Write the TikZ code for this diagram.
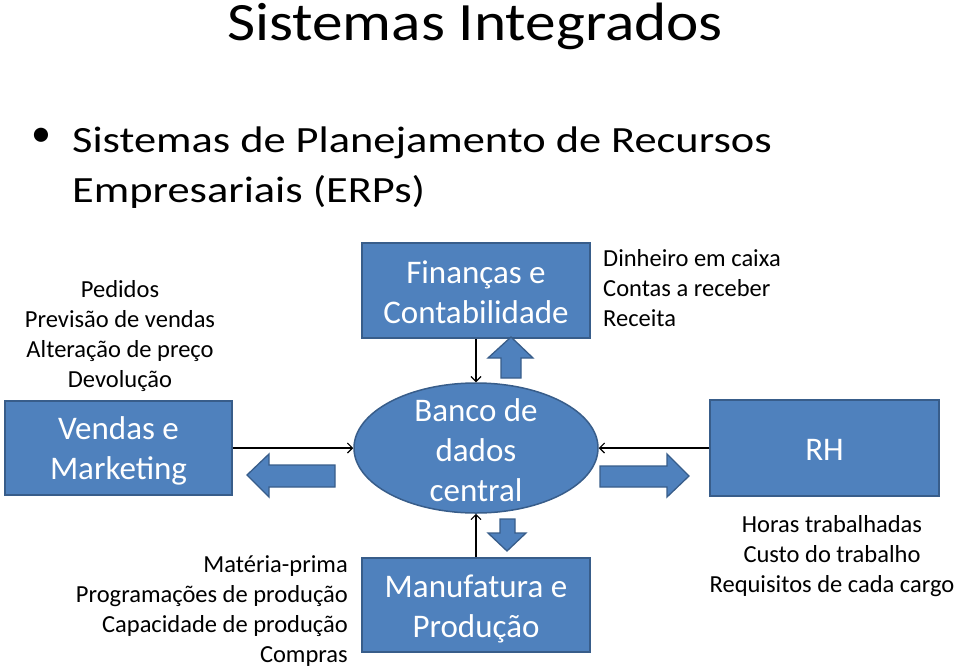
\documentclass[tikz,border=0pt]{standalone}
\usepackage{fontspec}
\usepackage{graphicx}
\setmainfont{Carlito}
\usetikzlibrary{arrows.meta,shapes.geometric}
\definecolor{boxfill}{HTML}{4F81BD}
\definecolor{boxline}{HTML}{385D8A}
\tikzset{
  unitbox/.style={draw=boxline,fill=boxfill,line width=1.5pt,inner sep=0pt},
  boxtext/.style={text=white,align=center,font=\fontsize{33}{40}\selectfont,inner sep=0pt},
  conn/.style={line width=1.1pt,-{Straight Barb[length=5pt,width=10pt,line width=1.1pt]}},
  blockarrow/.style={draw=boxline,fill=boxfill,line width=1.3pt,line join=miter},
  small/.style={font=\fontsize{24.5}{30}\selectfont,inner sep=0pt},
  bigtext/.style={font=\fontsize{37}{50}\selectfont,inner sep=0pt,anchor=base west},
}
\begin{document}
\begin{tikzpicture}[x=1pt,y=-1pt]
\useasboundingbox (0,0) rectangle (959,667);
% title
\node[font=\fontsize{54}{64}\selectfont,inner sep=0pt,anchor=base] (title) at (475,40) {\scalebox{1.134}[1]{Sistemas Integrados}};
% bullet
\node[font=\fontsize{40}{50}\selectfont,inner sep=0pt] (bul) at (41,137) {•};
\node[bigtext] (b1) at (72,152) {\scalebox{1.2}[1]{Sistemas de Planejamento de Recursos}};
\node[bigtext] (b2) at (72,202) {\scalebox{1.2}[1]{Empresariais (ERPs)}};
% boxes
\node[unitbox,minimum width=227pt,minimum height=94pt] (vm) at (118.5,448) {};
\node[unitbox,minimum width=228pt,minimum height=95pt] (fin) at (476,290.5) {};
\node[unitbox,minimum width=228pt,minimum height=94pt] (man) at (476,605) {};
\node[unitbox,minimum width=229pt,minimum height=96pt] (rh) at (824.5,448) {};
\node[unitbox,ellipse,minimum width=244pt,minimum height=130pt] (db) at (476,448) {};
\node[boxtext] (vmt) at (118.5,451) {Vendas e\\Marketing};
\node[boxtext] (fint) at (476,292.5) {Finanças e\\Contabilidade};
\node[boxtext] (mant) at (476,609) {Manufatura e\\Produção};
\node[boxtext] (rht) at (824.5,450) {RH};
\node[boxtext] (dbt) at (476,450) {Banco de\\dados\\central};
% connectors
\draw[conn] (vm.east) -- (db.west);
\draw[conn] (rh.west) -- (db.east);
\draw[conn] (fin.south) -- (db.north);
\draw[conn] (man.north) -- (db.south);
% block arrows
\draw[blockarrow] (247,475) -- (269,454) -- (269,465) -- (335,465) -- (335,487) -- (269,487) -- (269,497) -- cycle;
\draw[blockarrow] (689,476) -- (667,454) -- (667,466) -- (600,466) -- (600,487) -- (667,487) -- (667,497) -- cycle;
\draw[blockarrow] (511,337) -- (533,358) -- (521,358) -- (521,378) -- (501,378) -- (501,358) -- (488,358) -- cycle;
\draw[blockarrow] (507,551) -- (526,533) -- (515,533) -- (515,519) -- (500,519) -- (500,533) -- (488,533) -- cycle;
% side texts
\node[small,align=center] (t1) at (120,336) {Pedidos\\Previsão de vendas\\Alteração de preço\\Devolução};
\node[small,align=left,anchor=west] (t2) at (603,288) {Dinheiro em caixa\\Contas a receber\\Receita};
\node[small,align=right,anchor=east] (t3) at (348,611) {Matéria-prima\\Programações de produção\\Capacidade de produção\\Compras};
\node[small,align=center] (t4) at (832,556) {Horas trabalhadas\\Custo do trabalho\\Requisitos de cada cargo};
\end{tikzpicture}
\end{document}
